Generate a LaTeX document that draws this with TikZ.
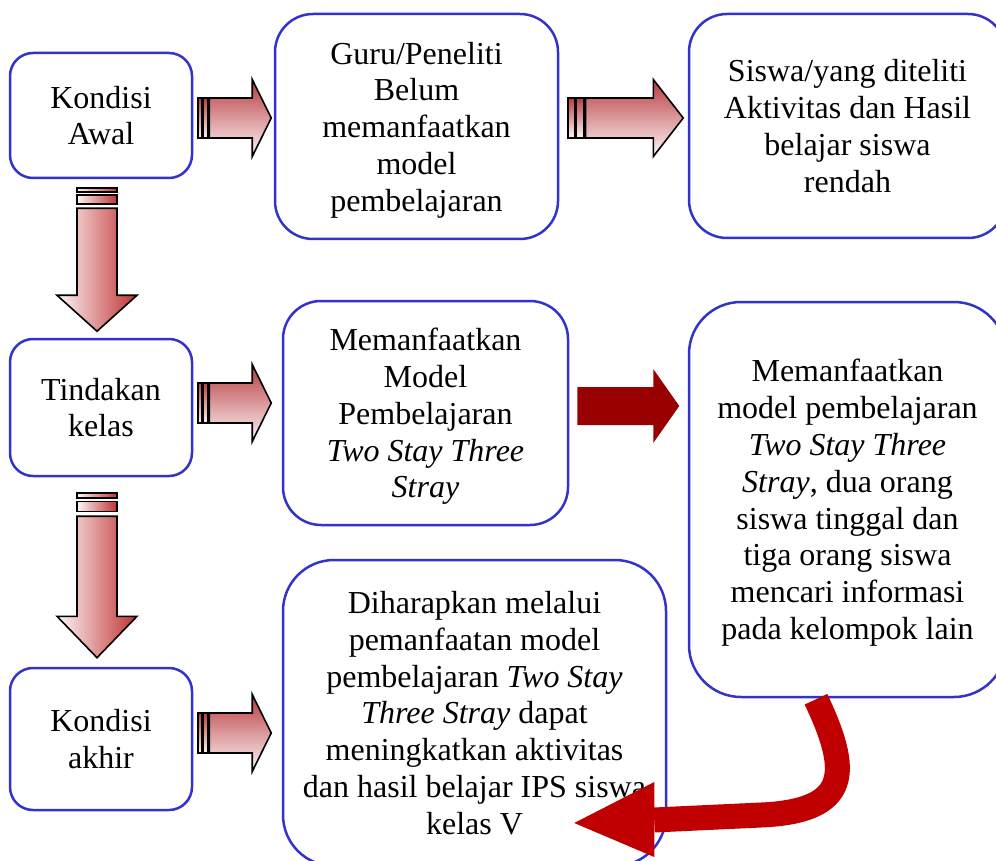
\documentclass[tikz,border=0pt]{standalone}
\usepackage{fontspec}
\setmainfont{Liberation Serif}
\usetikzlibrary{calc}
\definecolor{boxblue}{RGB}{51,51,204}
\definecolor{arrowdark}{RGB}{185,60,65}
\definecolor{arrowdarkv}{RGB}{192,50,50}
\definecolor{arrowlight}{RGB}{253,246,246}
\definecolor{solidred}{RGB}{153,0,0}
\definecolor{curvered}{RGB}{192,0,0}
\newcommand{\nodesc}[1]{\raisebox{0pt}[\height][-3pt]{#1}}
\tikzset{
  box/.style={draw=boxblue, line width=2.5pt, fill=white, align=center, inner sep=0pt,
    font=\fontsize{32}{36.8}\selectfont},
  smallbox/.style={box, rounded corners=23pt, minimum width=182pt},
  bigbox/.style={box, rounded corners=38pt},
  hshade/.style={draw=black, line width=1.6pt, top color=arrowdark, bottom color=arrowlight},
  vshade/.style={draw=black, line width=1.6pt, left color=arrowlight, right color=arrowdarkv},
  pics/harrow/.style={code={
    \path[hshade] (0,-20) rectangle (4,20);
    \path[hshade] (5,-20) rectangle (10,20);
    \path[hshade] (11,-20) -- (54,-20) -- (54,-38.5) -- (73,0) -- (54,38.5) -- (54,20) -- (11,20) -- cycle;
  }},
  pics/varrow/.style={code={
    \path[vshade] (-20,0) rectangle (20,4);
    \path[vshade] (-20,7) rectangle (20,16);
    \path[vshade] (-20,20) -- (-20,107) -- (-40,107) -- (0,143) -- (40,107) -- (20,107) -- (20,20) -- cycle;
  }},
}
\begin{document}
\begin{tikzpicture}[x=1pt,y=-1pt]
\useasboundingbox (0,0) rectangle (996,861);
\clip (0,0) rectangle (996,861);

% nodes
\node[smallbox, minimum height=125pt] (awal) at (101,115.5) {Kondisi\\Awal};
\node[smallbox, minimum height=137pt] (tindakan) at (101,407.5) {Tindakan\\kelas};
\node[smallbox, minimum height=142pt] (akhir) at (101,739) {Kondisi\\akhir};

\node[bigbox, minimum width=283pt, minimum height=225pt] (guru) at (416.5,126.5)
  {Guru/Peneliti\\Belum\\memanfaatkan\\model\\\nodesc{pembelajaran}};
\node[bigbox, minimum width=317pt, minimum height=224pt] (siswa) at (847.5,126)
  {Siswa/yang diteliti\\Aktivitas dan Hasil\\belajar siswa\\rendah};
\node[bigbox, minimum width=285pt, minimum height=224pt] (model) at (425.5,413)
  {Memanfaatkan\\Model\\Pembelajaran\\\textit{Two Stay Three}\\\nodesc{\textit{Stray}}};
\node[box, rounded corners=52pt, minimum width=317pt, minimum height=395pt] (mid3) at (847.5,499.5)
  {Memanfaatkan\\model pembelajaran\\\textit{Two Stay Three}\\\textit{Stray}, dua orang\\siswa tinggal dan\\tiga orang siswa\\mencari informasi\\\nodesc{pada kelompok lain}};
\node[box, rounded corners=51pt, minimum width=383pt, minimum height=306pt] (dihar) at (474.5,713)
  {Diharapkan melalui\\pemanfaatan model\\pembelajaran \textit{Two Stay}\\\textit{Three Stray} dapat\\meningkatkan aktivitas\\dan hasil belajar IPS siswa\\kelas V};

% striped block arrows
\pic at ($(awal.east)+(5,2.5)$) {harrow};
\pic[xscale=1.575] at ($(guru.east)+(9,-8.5)$) {harrow};
\pic at ($(tindakan.east)+(5,-4.5)$) {harrow};
\pic at ($(akhir.east)+(5,-6)$) {harrow};
\pic at ($(awal.south)+(-4,9)$) {varrow};
\pic[yscale=1.15] at ($(tindakan.south)+(-4,16)$) {varrow};

% solid dark arrow
\fill[solidred] ($(model.east)+(8,-7)$) ++(0,-19) -- ++(76,0) -- ++(0,-18) -- ++(26,37)
  -- ++(-26,37) -- ++(0,-18) -- ++(-76,0) -- cycle;

% curved arrow
\coordinate (cs) at ($(mid3.south)+(-31.5,1)$);
\coordinate (ce) at ($(dihar.east)+(-13,107)$);
\draw[curvered, line width=25pt] (cs) .. controls ($(cs)+(34,72)$) and ($(ce)+(197,-9)$) .. ($(ce)+(107,-5)$) -- (ce);
\fill[curvered] ($(ce)+(0,-38)$) -- ($(ce)+(-80,3)$) -- ($(ce)+(0,37)$) -- cycle;
\end{tikzpicture}
\end{document}
